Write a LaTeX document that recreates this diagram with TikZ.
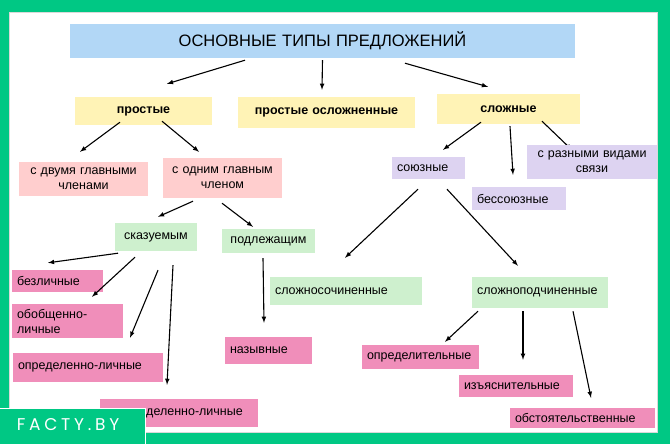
\documentclass[tikz,border=0pt]{standalone}
\usepackage{fontspec}
\setmainfont{Liberation Sans}
\newfontfamily\logofont[LetterSpace=22]{Poppins}
\usepackage{tikz}
\usetikzlibrary{arrows}

\definecolor{framegreen}{RGB}{0,200,132}
\definecolor{titleblue}{RGB}{178,215,246}
\definecolor{softyellow}{RGB}{255,243,182}
\definecolor{salmon}{RGB}{255,206,206}
\definecolor{lavender}{RGB}{221,211,241}
\definecolor{mint}{RGB}{206,240,206}
\definecolor{rosepink}{RGB}{240,142,186}

\begin{document}
\begin{tikzpicture}[
    x=1pt, y=-1pt,
    box/.style={inner xsep=5pt, inner ysep=0pt, align=left, font=\fontsize{12.5}{15}\selectfont},
    cbox/.style={box, align=center},
    bold/.style={font=\fontsize{12.5}{15}\selectfont\bfseries},
    arr/.style={-latex, line width=1.1pt}
]
\useasboundingbox (0,0) rectangle (670,444);
\fill[framegreen] (0,0) rectangle (670,444);
\filldraw[fill=white, draw=black!15] (9,12) rectangle (657,432);

\node[cbox, fill=titleblue, text width=495pt, minimum height=34pt, font=\fontsize{16.5}{18}\selectfont] (title) at (322.5,41) {ОСНОВНЫЕ ТИПЫ ПРЕДЛОЖЕНИЙ};

\node[cbox, bold, fill=softyellow, text width=127pt, minimum height=28pt] (simple) at (143.5,111) {простые};
\node[cbox, bold, fill=softyellow, text width=167pt, minimum height=31pt] (complicated) at (326.5,112.5) {простые осложненные};
\node[cbox, bold, fill=softyellow, text width=133pt, minimum height=30pt] (complex) at (508.5,109) {сложные};

\node[cbox, fill=salmon, text width=119pt, minimum height=34pt] (twomain) at (83.5,179) {с двумя главными\\членами};
\node[cbox, fill=salmon, text width=109pt, minimum height=40pt] (onemain) at (222.5,178) {с одним главным\\членом};

\node[box, fill=lavender, text width=63pt, minimum height=22pt] (union) at (428.5,168) {союзные};
\node[box, fill=lavender, text width=84pt, minimum height=23pt] (nonunion) at (519,198.5) {бессоюзные};

\node[cbox, fill=mint, text width=72pt, minimum height=28pt] (predicate) at (156,237) {сказуемым};
\node[cbox, fill=mint, text width=83pt, minimum height=24pt] (subject) at (268.5,241) {подлежащим};
\node[box, fill=mint, text width=142pt, minimum height=28pt] (coord) at (346,291) {сложносочиненные};
\node[box, fill=mint, text width=126pt, minimum height=31pt] (subordinate) at (540,292.5) {сложноподчиненные};

\node[box, fill=rosepink, text width=81pt, minimum height=22pt] (impersonal) at (57.5,281) {безличные};
\node[box, fill=rosepink, text width=101pt, minimum height=34pt] (generalized) at (67.5,321) {обобщенно-\\личные};
\node[box, fill=rosepink, text width=140pt, minimum height=29pt] (definite) at (88,367.5) {определенно-личные};
\node[box, fill=rosepink, text width=148pt, minimum height=28pt] (indefinite) at (179,413) {неопределенно-личные};
\node[box, fill=rosepink, text width=77pt, minimum height=27pt] (nominative) at (268.5,350.5) {назывные};
\node[box, fill=rosepink, text width=107pt, minimum height=24pt] (attributive) at (420.5,357) {определительные};
\node[box, fill=rosepink, text width=104pt, minimum height=22pt] (explanatory) at (516,386) {изъяснительные};
\node[box, fill=rosepink, text width=135pt, minimum height=20pt] (adverbial) at (582.5,418) {обстоятельственные};

\draw[arr] ([shift={(-77.5,2)}]title.south) -- ([shift={(23.5,-13)}]simple.north);
\draw[arr] ([shift={(0,2)}]title.south) -- ([shift={(-4.5,-7)}]complicated.north);
\draw[arr] ([shift={(82.5,5)}]title.south) -- ([shift={(-20.5,-7)}]complex.north);

\draw[arr] ([shift={(-23.5,-3)}]simple.south) -- ([shift={(-3.5,-10)}]twomain.north);
\draw[arr] ([shift={(18.5,-4)}]simple.south) -- ([shift={(-23.5,-6)}]onemain.north);

\coordinate (variousin) at (572,150);
\draw[arr] ([shift={(-27.5,-2)}]complex.south) -- ([shift={(14.5,-7)}]union.north);
\draw[arr] ([shift={(1.5,2)}]complex.south) -- ([shift={(-6,-12)}]nonunion.north);
\draw[arr] ([shift={(33.5,-3)}]complex.south) -- (variousin);
\node[cbox, fill=lavender, text width=120pt, minimum height=34pt] (various) at (592,162) {с разными видами\\связи};

\draw[arr] ([shift={(-29.5,3)}]onemain.south) -- ([shift={(2,-6)}]predicate.north);
\draw[arr] ([shift={(-0.5,5)}]onemain.south) -- ([shift={(-15.5,-2)}]subject.north);

\draw[arr] ([shift={(-10.5,10)}]union.south) -- ([shift={(-1,-19)}]coord.north);
\draw[arr] ([shift={(18.5,10)}]union.south) -- ([shift={(-22,-11)}]subordinate.north);

\draw[arr] ([shift={(-38,2)}]predicate.south) -- ([shift={(-9.5,-7)}]impersonal.north);
\draw[arr] ([shift={(-21,6)}]predicate.south) -- ([shift={(24.5,-7)}]generalized.north);
\draw[arr] ([shift={(2,19)}]predicate.south) -- ([shift={(42,-15)}]definite.north);
\draw[arr] ([shift={(17,14)}]predicate.south) -- ([shift={(-12,-14)}]indefinite.north);
\draw[arr] ([shift={(-5.5,5)}]subject.south) -- ([shift={(-4.5,-14)}]nominative.north);

\draw[arr] ([shift={(-62,3)}]subordinate.south) -- ([shift={(24.5,-3)}]attributive.north);
\draw[arr] ([shift={(-17,3)}]subordinate.south) -- ([shift={(7,-15)}]explanatory.north);
\draw[arr] ([shift={(33,3)}]subordinate.south) -- ([shift={(8.5,-10)}]adverbial.north);

\fill[framegreen] (0,408) rectangle (145,444);
\draw[white, line width=1pt] (0,408) -- (145,408) -- (145,444);
\node[text=white, inner sep=0pt, font=\logofont\fontsize{17}{19}\selectfont] (logo) at (68,425) {FACTY.BY};
\end{tikzpicture}
\end{document}
